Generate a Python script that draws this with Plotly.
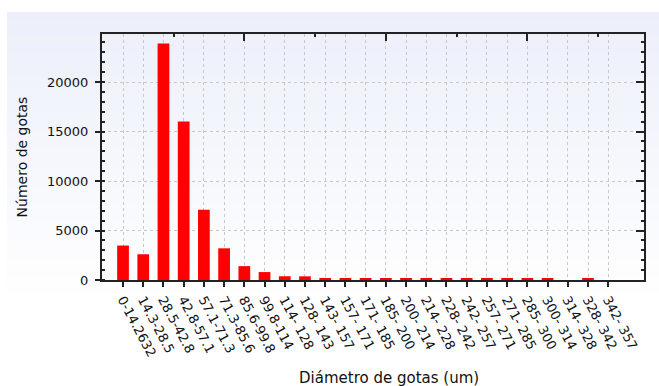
import base64
import struct
import zlib

import plotly.graph_objects as go

# Droplet-diameter bins (um) and droplet counts per bin
bins = [
    "0-14.2632", "14.3-28.5", "28.5-42.8", "42.8-57.1", "57.1-71.3",
    "71.3-85.6", "85.6-99.8", "99.8-114", "114- 128", "128- 143",
    "143- 157", "157- 171", "171- 185", "185- 200", "200- 214",
    "214- 228", "228- 242", "242- 257", "257- 271", "271- 285",
    "285- 300", "300- 314", "314- 328", "328- 342", "342- 357",
]
counts = [
    3480, 2600, 23900, 16000, 7100,
    3200, 1400, 800, 380, 370,
    200, 190, 190, 180, 170,
    170, 160, 160, 150, 150,
    150, 150, 0, 150, 0,
]

y_ticks = [0, 5000, 10000, 15000, 20000]
y_max = 24850
x_span = [-1.04, 25.77]

FONT = "DejaVu Sans"
INK = "#111111"
GRID = "#c8c8c8"
AXIS = "#222222"


def gradient_png(top, bottom, height, fade_rows):
    """Build a 1-px-wide vertical gradient PNG as a data URI."""
    rows = []
    for i in range(height):
        t = min(i / fade_rows, 1.0)
        px = [round(a + (b - a) * t) for a, b in zip(top, bottom)]
        rows.append(b"\x00" + bytes(px))
    raw = b"".join(rows)

    def chunk(tag, data):
        body = tag + data
        return struct.pack(">I", len(data)) + body + struct.pack(">I", zlib.crc32(body) & 0xFFFFFFFF)

    png = b"\x89PNG\r\n\x1a\n"
    png += chunk(b"IHDR", struct.pack(">IIBBBBB", 1, height, 8, 2, 0, 0, 0))
    png += chunk(b"IDAT", zlib.compress(raw))
    png += chunk(b"IEND", b"")
    return "data:image/png;base64," + base64.b64encode(png).decode()


fig = go.Figure()

fig.add_trace(go.Bar(
    x=bins,
    y=counts,
    marker=dict(color="#ff0000", line=dict(width=0)),
    width=0.58,
    hoverinfo="x+y",
    showlegend=False,
))

# empty helpers so the mirrored top/right axes are drawn
fig.add_trace(go.Scatter(x=[], y=[], xaxis="x2", yaxis="y", showlegend=False, hoverinfo="skip"))
fig.add_trace(go.Scatter(x=[], y=[], xaxis="x", yaxis="y2", showlegend=False, hoverinfo="skip"))

fig.update_layout(
    width=659,
    height=386,
    margin=dict(l=102, r=15, t=34, b=106),
    paper_bgcolor="white",
    plot_bgcolor="rgba(0,0,0,0)",
    font=dict(family=FONT, size=13, color=INK),
    bargap=0.42,
    xaxis=dict(
        type="category",
        range=x_span,
        tickangle=62,
        ticks="outside",
        ticklen=5,
        tickwidth=1.5,
        tickcolor=AXIS,
        tickfont=dict(size=13, color=INK),
        showline=True,
        linecolor=AXIS,
        linewidth=2,
        showgrid=True,
        gridcolor=GRID,
        gridwidth=1,
        griddash="dot",
        zeroline=False,
    ),
    xaxis2=dict(
        overlaying="x",
        anchor="y",
        side="top",
        range=x_span,
        tickmode="linear",
        tick0=6,
        dtick=7,
        ticks="inside",
        ticklen=7,
        tickwidth=1.5,
        tickcolor=AXIS,
        showticklabels=False,
        showline=True,
        linecolor=AXIS,
        linewidth=2,
        showgrid=False,
        zeroline=False,
        minor=dict(tick0=-1, dtick=3.5, ticks="inside", ticklen=3, tickwidth=1.5, tickcolor=AXIS),
    ),
    yaxis=dict(
        range=[0, y_max],
        tickvals=y_ticks,
        tickformat="d",
        ticks="outside",
        ticklen=5,
        tickwidth=1.5,
        tickcolor=AXIS,
        ticklabelstandoff=4,
        tickfont=dict(size=13, color=INK),
        showline=True,
        linecolor=AXIS,
        linewidth=2,
        showgrid=True,
        gridcolor=GRID,
        gridwidth=1,
        griddash="dot",
        zeroline=False,
        minor=dict(dtick=1000, ticks="inside", ticklen=3, tickwidth=1.5, tickcolor=AXIS, showgrid=False),
        title=dict(text="Número de gotas", font=dict(size=14, color=INK), standoff=16),
    ),
    yaxis2=dict(
        overlaying="y",
        anchor="x",
        side="right",
        range=[0, y_max],
        tickvals=y_ticks,
        ticks="inside",
        ticklen=8,
        tickwidth=1.5,
        tickcolor=AXIS,
        showticklabels=False,
        showline=True,
        linecolor=AXIS,
        linewidth=2,
        showgrid=False,
        zeroline=False,
        minor=dict(dtick=1000, ticks="inside", ticklen=3, tickwidth=1.5, tickcolor=AXIS),
    ),
    annotations=[dict(
        text="Diámetro de gotas (um)",
        xref="paper", yref="paper",
        x=0.53, y=-0.40,
        xanchor="center", yanchor="middle",
        showarrow=False,
        font=dict(size=15, color=INK),
    )],
    images=[dict(
        source=gradient_png((236, 239, 250), (255, 255, 255), 374, 290),
        xref="paper", yref="paper",
        x=-0.1753, y=1.0894,
        sizex=1.2030, sizey=1.5203,
        xanchor="left", yanchor="top",
        sizing="stretch",
        layer="below",
    )],
)

fig.write_html("out.html")
